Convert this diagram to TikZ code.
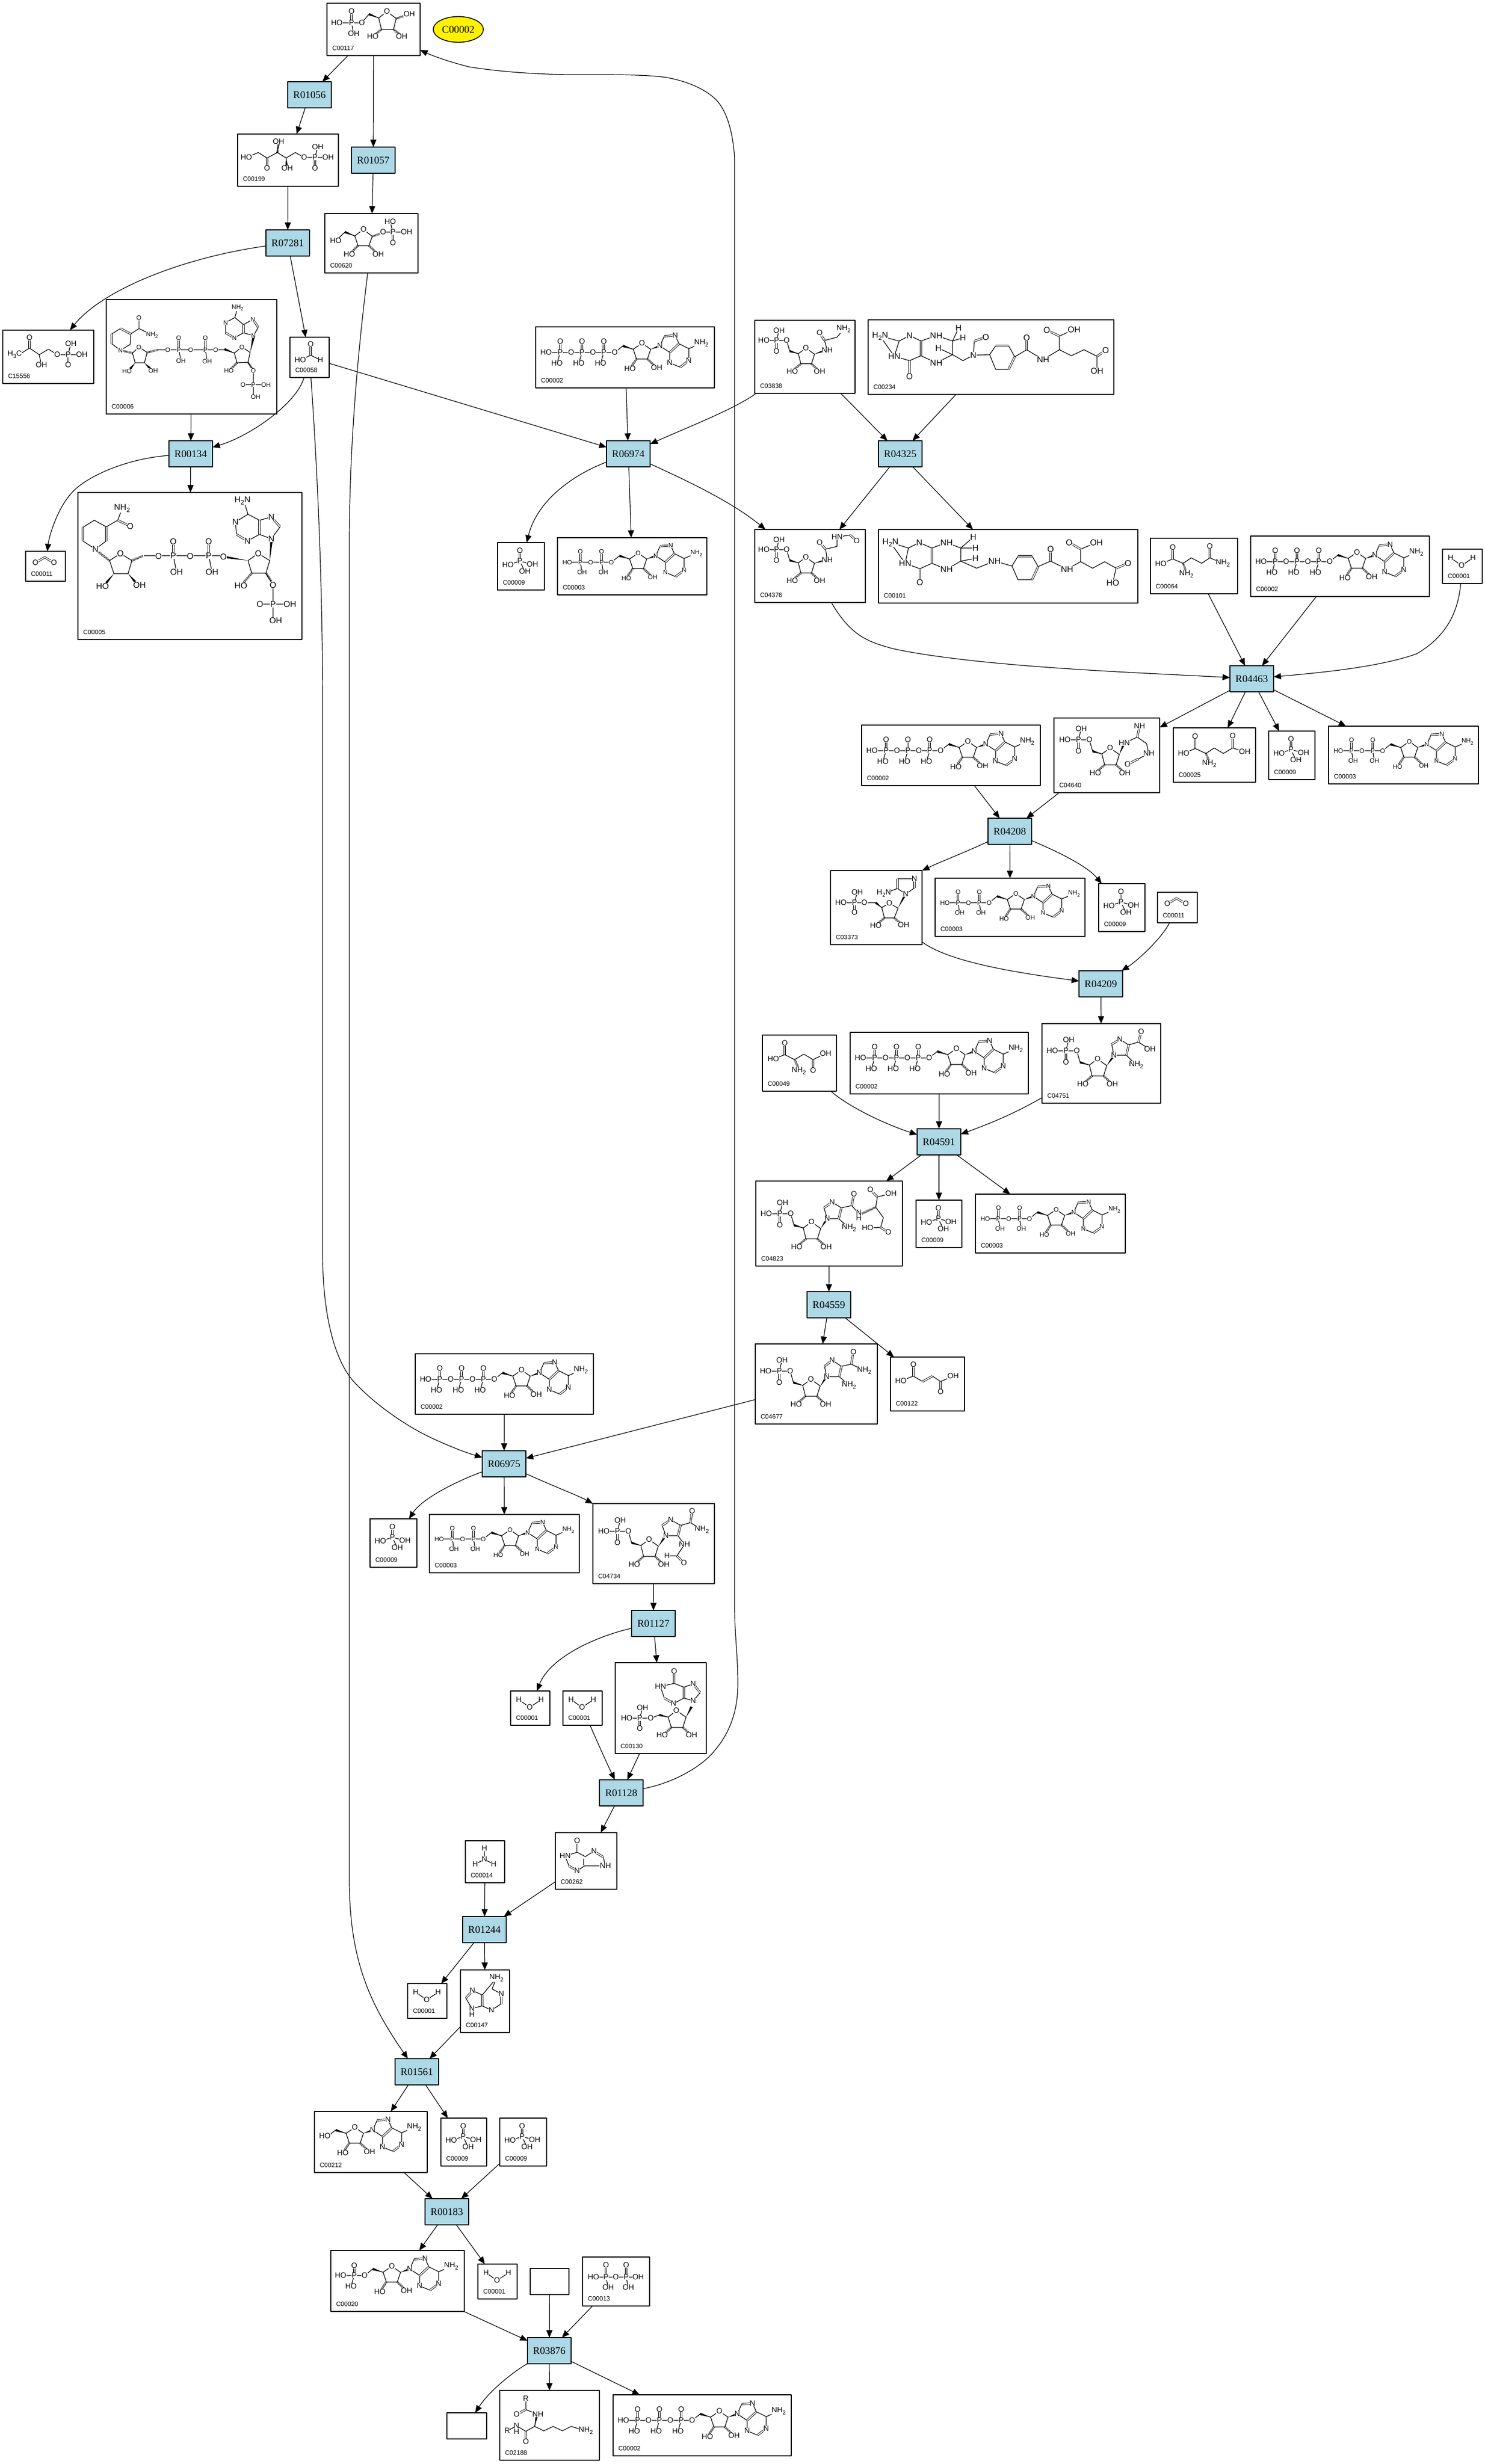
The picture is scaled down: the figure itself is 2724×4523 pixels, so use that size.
\documentclass[tikz,border=0pt]{standalone}
\usepackage{fontspec}
\setmainfont{Liberation Serif}
\newfontfamily\atomfont{Liberation Sans}
\usetikzlibrary{arrows.meta,calc,shapes.geometric}
\newcounter{atomno}
\newcommand{\lsub}[1]{\raisebox{-.3em}{\scalebox{.75}{#1}}}
\newcommand{\wdg}[2]{\fill (#1) -- ($(#2)!.55pt!90:(#1)$) -- ($(#2)!.55pt!-90:(#1)$) -- cycle;}
% bonds, double bonds, atoms
\newcommand{\mol}[3]{\draw[bond] #1; \draw[dbl] #2;
	\foreach \ax/\ay/\atxt in {#3} {\stepcounter{atomno}\node[atom] (atom\theatomno) at (\ax,\ay) {\atxt};}}
% ribose and adenine, origin at the 5' oxygen
\newcommand{\ado}{\wdg{34,-6}{15,-12}\wdg{66,-6}{83,-12}
	\draw[hashb] (40,12)--(29,28) (60,12)--(75,26);
	\mol{(0,0)--(15,-12)--(34,-6) (34,-6)--(50,-17)--(66,-6)--(60,12)--(40,12)--cycle (83,-12)--(91,-30)--(111,-31)--(118,-16)--(101,0)--cycle (118,-16)--(136,-7)--(136,15)--(120,27)--(101,19)--(101,0) (136,-7)--(159,-17)}
	{(91,-30)--(107,-31) (101,0)--(118,-16) (136,15)--(120,27)}
	{50/-17/O,83/-12/N,111/-31/N,136/15/N,101/19/N,28/30/HO,77/28/OH,159/-17/NH\lsub{2}}}
\newcommand{\ATP}[2]{\begin{scope}[shift={(#1,#2)}]
	\begin{scope}[shift={(145,47)}]\ado\end{scope}
	\mol{(19,47)--(145,47) (45,47)--(39,67) (85,47)--(79,67) (125,47)--(119,67)}{(45,47)--(45,27) (85,47)--(85,27) (125,47)--(125,27)}
	{19/47/HO,45/47/P,45/27/O,39/67/HO,65/47/O,85/47/P,85/27/O,79/67/HO,105/47/O,125/47/P,125/27/O,119/67/HO,145/47/O}
	\end{scope}}
\newcommand{\ADP}[2]{\begin{scope}[shift={(#1,#2)},smallatoms]
	\begin{scope}[shift={(99,45)},scale=.98]\ado\end{scope}
	\mol{(18,45)--(99,45) (42,45)--(45,63) (81,45)--(84,63)}{(42,45)--(42,25) (81,45)--(81,25)}
	{18/45/HO,42/45/P,42/25/O,45/63/OH,61/45/O,81/45/P,81/25/O,84/63/OH,99/45/O}
	\end{scope}}
\newcommand{\PiAcid}[2]{\begin{scope}[shift={(#1,#2)}]
	\mol{(41,34)--(19,41) (41,34)--(64,40) (41,34)--(50,53)}{(41,34)--(41,15)}
	{41/15/O,41/34/P,19/41/HO,64/40/OH,50/53/OH}\end{scope}}
\newcommand{\water}[2]{\begin{scope}[shift={(#1,#2)}]
	\mol{(15,16)--(35,30)--(56,16)}{}{15/16/H,35/30/O,56/16/H}\end{scope}}
\newcommand{\carbdi}[2]{\begin{scope}[shift={(#1,#2)}]
	\mol{}{(18,21)--(35,11)--(52,21)}{18/21/O,52/21/O}\end{scope}}
% phosphoribosyl part that the later intermediates share
\newcommand{\prib}{\wdg{87,76}{70,71}
	\draw[hashb] (92,96)--(78,108) (113,96)--(126,108);
	\mol{(19,50)--(64,50)--(70,71)--(87,76) (44,50)--(49,30) (87,76)--(102,65)--(119,77)--(113,96)--(92,96)--cycle}{(44,50)--(44,71)}
	{19/50/HO,44/50/P,49/30/OH,44/71/O,64/50/O,102/65/O,75/111/HO,129/111/OH}}
\definecolor{rxnblue}{HTML}{ADD8E6}
\tikzset{
	bond/.style={line width=.3pt,line join=round},
	dbl/.style={double,double distance=.5pt,line width=.22pt},
	hashb/.style={line width=1pt,dash pattern=on .22pt off .3pt},
	atom/.style={font=\atomfont\fontsize{3.5}{4}\selectfont,fill=white,inner sep=.1pt},
	smallatoms/.style={atom/.append style={font=\atomfont\fontsize{2.9}{3.4}\selectfont}},
	bigatoms/.style={atom/.append style={font=\atomfont\fontsize{3.9}{4.4}\selectfont}},
	cpd/.style={draw,line width=.4pt,inner sep=0pt,outer sep=0pt},
	cid/.style={font=\atomfont\fontsize{2.9}{3.4}\selectfont,anchor=west,inner sep=0pt},
	rxn/.style={draw,line width=.4pt,fill=rxnblue,inner sep=0pt,outer sep=0pt,minimum width=20pt,minimum height=12pt,font=\fontsize{4.7}{5}\selectfont},
	edge/.style={->,line width=.3pt}
}
\begin{document}
\begin{tikzpicture}[x=.25pt,y=-.25pt,>={Triangle[length=3.4pt,width=2.8pt]},line join=round]
	\useasboundingbox (0,0) rectangle (2724,4523);
	\foreach \n/\xa/\ya/\xb/\yb/\lab in {C00117/600/6/771/102/C00117, C00199/436/246/621/342/C00199, C00620/596/392/767/501/C00620,
		C15556/5/606/172/704/C15556, C00006/195/550/508/760/C00006, C00058/532/619/604/693/C00058, C00005/143/904/554/1174/C00005,
		C00011a/47/1012/120/1067/C00011, C00002a/983/600/1311/712/C00002, C03838/1385/588/1569/722/C03838, C00234/1593/587/2044/724/C00234,
		C00009a/913/996/999/1083/C00009, C00003a/1023/987/1297/1092/C00003, C04376/1385/972/1588/1106/C04376, C00101/1612/972/2088/1107/C00101,
		C00064/2111/988/2271/1090/C00064, C00002b/2295/984/2623/1095/C00002, C00001a/2647/1008/2720/1071/C00001, C00002c/1581/1331/1909/1442/C00002,
		C04640/1934/1318/2128/1455/C04640, C00025/2153/1336/2304/1436/C00025, C00009b/2328/1342/2413/1431/C00009, C00003b/2438/1333/2713/1439/C00003,
		C03373/1524/1598/1692/1734/C03373, C00003c/1716/1612/1991/1719/C00003, C00009c/2016/1622/2101/1710/C00009, C00011b/2124/1638/2197/1694/C00011,
		C04751/1912/1879/2130/2025/C04751, C00049/1399/1900/1535/2003/C00049, C00002d/1560/1895/1887/2008/C00002, C04823/1387/2168/1656/2324/C04823,
		C00009d/1681/2203/1765/2290/C00009, C00003d/1790/2192/2065/2300/C00003, C04677/1386/2467/1610/2614/C04677, C00122/1634/2491/1770/2590/C00122,
		C00002e/762/2485/1089/2596/C00002, C00009e/679/2788/765/2877/C00009, C00003e/788/2780/1063/2887/C00003, C04734/1088/2760/1311/2907/C04734,
		C00001b/937/3104/1009/3167/C00001, C00001c/1033/3104/1105/3167/C00001, C00130/1129/3052/1296/3219/C00130, C00262/1019/3364/1132/3468/C00262,
		C00014/854/3379/926/3456/C00014, C00001d/748/3641/820/3705/C00001, C00147/845/3616/935/3731/C00147, C00212/577/3876/784/3988/C00212,
		C00009f/809/3888/893/3976/C00009, C00009g/917/3888/1003/3976/C00009, C00020/607/4131/852/4243/C00020, C00001e/877/4156/949/4220/C00001,
		blanka/973/4164/1044/4212/{}, C00013/1069/4143/1192/4233/C00013, blankb/820/4429/893/4477/{}, C02188/917/4388/1100/4516/C02188, C00002f/1125/4396/1452/4508/C00002}
		{\node[cpd,minimum width={(\xb-\xa)*.25pt},minimum height={(\yb-\ya)*.25pt}] (\n) at ({(\xa+\xb)/2},{(\ya+\yb)/2}) {};
		\node[cid] (\n-id) at ({\xa+9},{\yb-14}) {\lab};}
	\foreach \n/\x/\y in {R01056/568/174, R01057/685/294, R07281/528/446, R00134/350/833, R06974/1153/833, R04325/1652/833, R04463/2297/1246,
		R04208/1853/1526, R04209/2020/1806, R04591/1723/2096, R04559/1521/2395, R06975/925/2687, R01127/1199/2980, R01128/1140/3291,
		R01244/889/3542, R01561/765/3803, R00183/820/4060, R03876/1008/4315}
		\node[rxn] (\n) at (\x,\y) {\n};
	\node[ellipse,draw,line width=.4pt,fill=yellow,inner sep=0pt,minimum width=23pt,minimum height=11.8pt,font=\fontsize{4.7}{5}\selectfont] (C00002) at (841,54) {C00002};
	% repeated compounds
	\ATP{983}{600}\ATP{2295}{984}\ATP{1581}{1331}\ATP{1560}{1895}\ATP{762}{2485}\ATP{1125}{4396}
	\ADP{1023}{987}\ADP{2438}{1333}\ADP{1716}{1612}\ADP{1790}{2192}\ADP{788}{2780}
	\PiAcid{913}{996}\PiAcid{2328}{1342}\PiAcid{2016}{1622}\PiAcid{1681}{2203}\PiAcid{679}{2788}\PiAcid{809}{3888}\PiAcid{917}{3888}
	\water{2647}{1008}\water{937}{3104}\water{1033}{3104}\water{748}{3641}\water{877}{4156}
	\carbdi{47}{1012}\carbdi{2124}{1638}
	% single compounds
	\begin{scope}[shift={(600,6)}]
		\wdg{95,27}{77,20} \draw[hashb] (100,48)--(86,59) (122,48)--(135,58) (127,28)--(148,21);
		\mol{(18,36)--(64,36)--(77,20)--(95,27) (45,36)--(49,56) (95,27)--(110,15)--(127,28)--(122,48)--(100,48)--cycle}{(45,36)--(45,15)}
		{18/36/HO,45/36/P,45/15/O,49/56/OH,64/36/O,110/15/O,84/61/HO,137/61/OH,151/20/OH}
	\end{scope}
	\begin{scope}[shift={(436,246)}]
		\draw[hashb] (73,34)--(75,18); \wdg{89,44}{90,58}
		\mol{(16,43)--(38,34)--(54,44)--(73,34)--(89,44)--(106,34)--(122,43)--(165,43) (89,44)--(91,63) (73,34)--(75,14) (142,43)--(147,24)}{(54,44)--(54,63) (142,43)--(142,63)}
		{16/43/HO,54/63/O,75/14/OH,91/63/OH,122/43/O,142/43/P,147/24/OH,166/43/OH,142/63/O}
	\end{scope}
	\begin{scope}[shift={(596,392)}]
		\wdg{55,41}{37,34} \draw[hashb] (61,59)--(48,72) (81,59)--(95,72) (87,42)--(105,36);
		\mol{(20,50)--(37,34)--(55,41) (55,41)--(71,29)--(87,42)--(81,59)--(61,59)--cycle (107,34)--(150,34) (125,34)--(120,15)}{(125,34)--(125,54)}
		{20/50/HO,71/29/O,45/75/HO,98/75/OH,107/34/O,125/34/P,120/15/HO,150/34/OH,125/54/O}
	\end{scope}
	\begin{scope}[shift={(5,606)}]
		\mol{(30,45)--(49,33)--(67,45)--(84,35)--(100,45)--(145,45) (67,45)--(71,64) (120,45)--(125,25)}{(49,33)--(49,14) (120,45)--(120,64)}
		{22/45/H\lsub{3}C,49/14/O,71/64/OH,100/45/O,120/45/P,125/25/OH,145/45/OH,120/64/O}
	\end{scope}
	\begin{scope}[shift={(532,619)}]
		\mol{(38,33)--(19,42) (38,33)--(56,42)}{(38,33)--(38,13)}{38/13/O,19/42/HO,56/42/H}
	\end{scope}
	\begin{scope}[shift={(195,550)},smallatoms]
		\wdg{235,98}{217,91} \wdg{264,97}{270,70} \draw[hashb] (48,98)--(30,94) (75,97)--(95,92) (240,116)--(228,128) (260,115)--(268,127);
		\wdg{53,116}{44,127} \wdg{70,116}{80,126}
		\mol{(26,93)--(10,81)--(10,63)--(26,53)--(45,63)--(44,82)--cycle (45,63)--(60,53)--(84,65) (48,98)--(60,87)--(75,97)--(70,116)--(53,116)--cycle (95,92)--(218,92)--(235,98)--(249,87)--(264,97)--(260,115)--(240,116)--(235,98) (133,92)--(137,111) (182,92)--(185,113) (260,115)--(270,130)--(270,178) (251,156)--(293,156) (270,66)--(279,51)--(269,36)--(252,46)--(252,61)--cycle (252,46)--(236,33)--(219,42)--(219,61)--(235,70)--(252,61) (236,33)--(241,15)}
		{(60,53)--(60,33) (133,92)--(133,70) (182,92)--(182,70) (10,81)--(10,63) (26,53)--(45,63) (279,51)--(269,36) (252,46)--(252,61) (219,61)--(235,70)}
		{26/93/N,60/33/O,84/65/NH\lsub{2},60/87/O,38/131/HO,86/130/OH,113/92/O,133/92/P,133/70/O,137/112/OH,155/92/O,182/92/P,182/70/O,185/113/OH,201/92/O,249/87/O,225/130/HO,270/130/O,270/156/P,251/156/O,293/156/OH,274/178/OH,270/66/N,269/36/N,235/70/N,219/42/N,241/15/NH\lsub{2}}
	\end{scope}
	\begin{scope}[shift={(143,904)},bigatoms]
		\wdg{312,125}{267,118} \wdg{352,125}{355,90} \draw[hashb] (58,125)--(36,108) (99,125)--(120,116) (319,148)--(304,165) (345,148)--(355,163);
		\wdg{66,149}{52,166} \wdg{92,149}{105,164}
		\mol{(32,104)--(9,89)--(9,64)--(30,51)--(52,63)--(52,89)--cycle (52,63)--(73,51)--(81,30) (58,125)--(78,112)--(99,125)--(92,149)--(66,149)--cycle (121,116)--(267,116) (175,116)--(181,146) (240,116)--(246,146) (312,125)--(331,112)--(352,125)--(345,148)--(319,148)--cycle (345,148)--(358,170)--(358,235) (334,205)--(389,205) (355,85)--(371,63)--(355,45)--(333,51)--(333,77)--cycle (333,51)--(312,40)--(289,54)--(291,77)--(311,89)--(333,77) (312,40)--(306,20)}
		{(73,51)--(96,62) (175,116)--(175,90) (240,116)--(240,90) (9,88)--(9,64) (52,63)--(52,89) (371,63)--(355,45) (333,51)--(333,77) (291,77)--(311,89)}
		{32/104/N,96/62/O,81/29/NH\lsub{2},78/112/O,45/172/HO,113/170/OH,148/117/O,175/116/P,175/90/O,181/146/OH,206/117/O,240/116/P,240/90/O,246/146/OH,267/118/O,331/112/O,299/171/HO,358/170/O,358/205/P,334/205/O,389/205/OH,363/235/OH,355/85/N,355/45/N,311/89/N,289/54/N,302/15/H\lsub{2}N}
	\end{scope}
	\begin{scope}[shift={(1385,588)}]
		\begin{scope}[shift={(-1,-9.5)},scale=.93]\prib\end{scope}
		\wdg{109,62}{130,55}
		\mol{(133,55)--(128,37)--(151,31)--(163,16)}{(128,37)--(119,23)}{133/55/NH,119/23/O,163/16/NH\lsub{2}}
	\end{scope}
	\begin{scope}[shift={(1385,972)}]
		\begin{scope}[shift={(-1,-9.5)},scale=.93]\prib\end{scope}
		\wdg{109,62}{130,56}
		\mol{(133,56)--(130,36)--(151,31)--(151,14)--(175,10)}{(130,36)--(119,24) (175,10)--(187,21)}{133/56/NH,119/24/O,151/14/HN,187/21/O}
	\end{scope}
	\begin{scope}[shift={(1593,587)},bigatoms]
		\mol{(22,30)--(57,39)--(76,29)--(97,39)--(97,66)--(76,75)--(48,67)--cycle (57,39)--(48,67) (97,39)--(125,29)--(155,39)--(155,64)--(125,79)--(97,66) (155,39)--(166,15) (155,39)--(174,33) (155,64)--(129,52) (155,64)--(174,75)--(193,65)--(195,39) (193,65)--(223,64) (223,64)--(234,48)--(258,48)--(269,68)--(258,91)--(234,91)--cycle (269,68)--(291,55)--(321,73)--(351,55)--(351,30)--(377,18) (351,55)--(373,66)--(396,55)--(420,67)--(420,94)}
		{(291,55)--(291,33) (351,30)--(328,19) (420,67)--(436,56) (97,39)--(97,66) (76,75)--(76,104) (195,39)--(216,32) (234,48)--(258,48) (269,68)--(258,91)}
		{22/30/H\lsub{2}N,76/29/N,125/29/NH,166/15/H,174/33/H,129/52/H,125/79/NH,76/104/O,48/67/HN,193/65/N,216/32/O,291/33/O,321/73/NH,328/19/O,378/18/OH,436/56/O,420/94/OH}
	\end{scope}
	\begin{scope}[shift={(1612,972)},bigatoms]
		\mol{(22,24)--(55,34)--(75,24)--(98,34)--(98,62)--(76,72)--(49,62)--cycle (55,34)--(49,62) (98,34)--(125,24)--(151,34)--(151,58)--(125,73)--(98,62) (151,34)--(174,14) (151,34)--(178,34) (151,58)--(178,53) (151,58)--(180,71)--(213,58)--(245,67) (245,67)--(256,49)--(282,49)--(293,68)--(282,92)--(256,92)--cycle (293,68)--(316,58)--(346,73)--(371,59)--(371,36)--(400,24) (371,59)--(393,71)--(415,59)--(436,71)--(430,98)}
		{(316,58)--(316,36) (371,36)--(350,24) (436,71)--(458,62) (98,34)--(98,62) (76,72)--(76,97) (256,49)--(282,49) (293,68)--(282,92)}
		{22/24/H\lsub{2}N,75/24/N,125/24/NH,174/14/H,178/34/H,178/53/H,125/73/NH,76/97/O,49/62/HN,213/58/NH,316/36/O,346/73/NH,350/24/O,400/24/OH,458/62/O,430/98/HO}
	\end{scope}
	\begin{scope}[shift={(2111,988)}]
		\draw[hashb] (60,46)--(65,60);
		\mol{(19,47)--(41,38)--(60,46)--(75,36)--(94,46)--(109,36)--(133,46)}{(41,38)--(41,17) (109,36)--(109,15)}{19/47/HO,41/17/O,66/66/NH\lsub{2},109/15/O,133/46/NH\lsub{2}}
	\end{scope}
	\begin{scope}[shift={(2153,1336)}]
		\draw[hashb] (60,47)--(65,60);
		\mol{(19,47)--(40,38)--(60,47)--(75,37)--(92,47)--(109,37)--(131,44)}{(40,38)--(40,16) (109,37)--(109,15)}{19/47/HO,40/16/O,66/66/NH\lsub{2},109/15/O,131/44/OH}
	\end{scope}
	\begin{scope}[shift={(1934,1318)}]
		\begin{scope}[shift={(1,-10)}]\prib\end{scope}
		\wdg{120,67}{128,48}
		\mol{(129,46)--(153,35)--(170,47)--(174,65)--(155,75)}{(153,35)--(157,15) (155,75)--(135,85)}{129/46/HN,157/15/NH,174/65/NH,135/85/O}
	\end{scope}
	\begin{scope}[shift={(1524,1598)}]
		\wdg{94,68}{83,59} \wdg{124,69}{137,44} \draw[hashb] (99,87)--(86,98) (117,87)--(130,98);
		\mol{(19,59)--(62,59)--(83,59)--(94,68) (44,59)--(49,40) (94,68)--(108,60)--(124,69)--(117,87)--(99,87)--cycle (138,43)--(123,33)--(123,15)--(154,15)--(154,32)--cycle (123,33)--(98,42)}{(44,59)--(44,77) (123,33)--(123,15) (154,15)--(154,32)}
		{19/59/HO,44/59/P,49/40/OH,44/77/O,62/59/O,108/60/O,83/101/HO,134/100/OH,138/43/N,154/15/N,98/42/H\lsub{2}N}
	\end{scope}
	\begin{scope}[shift={(1912,1879)}]
		\prib \wdg{119,77}{131,60}
		\mol{(132,58)--(128,38)--(143,29)--(159,39)--(155,58)--cycle (159,39)--(177,34)--(198,47) (155,58)--(173,76)}{(177,34)--(182,15) (159,39)--(155,58) (128,38)--(143,29)}{132/58/N,143/29/N,182/15/O,198/47/OH,173/76/NH\lsub{2}}
	\end{scope}
	\begin{scope}[shift={(1399,1900)}]
		\draw[hashb] (59,45)--(66,60);
		\mol{(20,44)--(41,36)--(59,45)--(76,35)--(93,45)--(116,34)}{(41,36)--(41,15) (93,45)--(93,65)}{20/44/HO,41/15/O,67/66/NH\lsub{2},93/65/O,116/34/OH}
	\end{scope}
	\begin{scope}[shift={(1387,2168)}]
		\begin{scope}[shift={(0,10)}]\prib\end{scope}
		\wdg{119,87}{130,70} \draw[hashb] (220,48)--(194,60);
		\mol{(131,69)--(125,49)--(140,39)--(157,49)--(152,69)--cycle (157,49)--(176,45)--(189,60) (152,69)--(171,86) (220,48)--(223,29)--(248,23) (220,48)--(234,67)--(229,85)--(205,86)}
		{(157,49)--(152,69) (125,49)--(140,39) (176,45)--(180,24) (223,29)--(210,16) (229,85)--(243,94)}
		{131/69/N,140/39/N,171/86/NH\lsub{2},180/24/O,189/58/N,189/68/H,210/16/O,248/23/OH,243/94/O,205/86/HO}
	\end{scope}
	\begin{scope}[shift={(1386,2467)}]
		\prib \wdg{119,78}{130,61}
		\mol{(131,60)--(127,41)--(141,30)--(158,41)--(154,60)--cycle (158,41)--(176,37)--(200,49) (154,60)--(172,76)}{(158,41)--(154,60) (127,41)--(141,30) (176,37)--(180,15)}{131/60/N,141/30/N,172/76/NH\lsub{2},180/15/O,200/49/NH\lsub{2}}
	\end{scope}
	\begin{scope}[shift={(1634,2491)}]
		\mol{(19,44)--(42,35)--(59,45)--(77,35)--(92,45)--(115,35)}{(42,35)--(42,14) (59,45)--(77,35) (92,45)--(92,64)}{19/44/HO,42/14/O,92/64/O,115/35/OH}
	\end{scope}
	\begin{scope}[shift={(1088,2760)}]
		\begin{scope}[shift={(1,1)}]\prib\end{scope}
		\wdg{120,79}{132,61}
		\mol{(134,59)--(127,40)--(143,30)--(161,40)--(156,59)--cycle (161,40)--(179,35)--(200,48) (156,59)--(168,75)--(154,96)--(136,96)}{(161,40)--(156,59) (127,40)--(143,30) (179,35)--(182,14) (154,96)--(167,109)}{134/59/N,143/30/N,182/14/O,200/48/NH\lsub{2},168/75/NH,136/96/H,167/109/O}
	\end{scope}
	\begin{scope}[shift={(1129,3052)}]
		\wdg{97,100}{81,96} \wdg{130,100}{140,81} \draw[hashb] (103,119)--(91,130) (124,119)--(136,130);
		\mol{(21,102)--(65,102)--(81,96)--(97,100) (45,102)--(50,83) (97,100)--(112,88)--(130,100)--(124,119)--(103,119)--cycle (83,44)--(108,38)--(126,45)--(126,65)--(107,75)--(90,65)--cycle (126,45)--(143,39)--(156,55)--(143,70)--(126,65)}
		{(45,102)--(45,121) (108,38)--(108,16) (126,45)--(126,65) (90,65)--(107,75) (143,39)--(156,55)}
		{21/102/HO,45/102/P,50/83/OH,45/121/O,65/102/O,112/88/O,86/133/HO,140/133/OH,108/16/O,83/44/HN,107/75/N,143/39/N,143/70/N}
	\end{scope}
	\begin{scope}[shift={(1019,3364)}]
		\mol{(18,43)--(40,36)--(55,44)--(71,34)--(88,45)--(92,61)--(54,61)--(40,70)--(25,61)--cycle (52,48)--(52,60)}{(40,36)--(40,15) (25,61)--(40,70) (71,34)--(88,45)}{40/15/O,18/43/HN,40/70/N,71/34/N,92/61/NH}
	\end{scope}
	\begin{scope}[shift={(854,3379)}]
		\mol{(35,14)--(35,34)--(18,43) (35,34)--(52,43)}{}{35/14/H,35/34/N,18/43/H,52/43/H}
	\end{scope}
	\begin{scope}[shift={(845,3616)}]
		\mol{(66,15)--(58,35)--(75,44)--(75,62)--(57,74)--(40,66)--(40,46)--cycle (40,46)--(22,38)--(10,52)--(21,71)--(40,66)}{(40,66)--(40,46) (75,44)--(75,62) (22,38)--(10,52)}{66/15/NH\lsub{2},75/44/N,57/74/N,22/38/N,21/71/N,21/82/H}
	\end{scope}
	\begin{scope}[shift={(577,3876)}]
		\begin{scope}[shift={(24,46)}]\ado\end{scope}
		\mol{(19,45)--(24,46)}{}{19/45/HO}
	\end{scope}
	\begin{scope}[shift={(607,4131)}]
		\begin{scope}[shift={(62,46)}]\ado\end{scope}
		\mol{(18,46)--(62,46) (43,46)--(37,66)}{(43,46)--(43,28)}{18/46/HO,43/46/P,43/28/O,37/66/HO,62/46/O}
	\end{scope}
	\begin{scope}[shift={(1069,4143)}]
		\mol{(20,37)--(102,37) (43,37)--(47,56) (80,37)--(84,56)}{(43,37)--(43,15) (80,37)--(80,15)}{20/37/HO,43/37/P,43/15/O,47/56/OH,61/37/O,80/37/P,80/15/O,102/37/OH,84/56/OH}
	\end{scope}
	\begin{scope}[shift={(917,4388)}]
		\wdg{64,66}{68,46}
		\mol{(48,15)--(48,35)--(70,44) (48,35)--(31,44) (69,44)--(64,66)--(48,75)--(31,65)--(14,74) (64,66)--(81,74)--(98,66)--(115,74)--(131,66)--(158,74)}{(48,35)--(31,44) (48,75)--(48,94)}{48/15/R,31/44/O,70/44/NH,48/94/O,31/65/N,31/76/H,14/74/R,158/74/NH\lsub{2}}
	\end{scope}
	% straight connectors
	\foreach \a/\b in {C00117/R01056, C00117/R01057, R01056/C00199, C00199/R07281, R01057/C00620, R07281/C00058, C00006/R00134, R00134/C00005,
		C00058/R06974, C00002a/R06974, R06974/C00003a, C03838/R04325, C00234/R04325, R04325/C04376, R04325/C00101,
		C00064/R04463, C00002b/R04463, R04463/C04640, R04463/C00025, R04463/C00009b, R04463/C00003b,
		C00002c/R04208, C04640/R04208, R04208/C00003c, R04209/C04751, C00002d/R04591, R04591/C04823, R04591/C00009d, R04591/C00003d,
		C04823/R04559, R04559/C04677, R04559/C00122, C04677/R06975, C00002e/R06975, R06975/C00003e, C04734/R01127, R01127/C00130,
		C00130/R01128, R01128/C00262, C00014/R01244, C00262/R01244, R01244/C00001d, R01244/C00147, C00147/R01561,
		R01561/C00212, R01561/C00009f, C00212/R00183, C00009g/R00183, R00183/C00020, R00183/C00001e,
		C00020/R03876, blanka/R03876, C00013/R03876, R03876/C02188, R03876/C00002f}
		\draw[edge] (\a) -- (\b);
	% curved connectors
	\draw[edge] (R07281) .. controls (340,472) and (190,530) .. (C15556);
	\draw[edge] (C00058) .. controls (545,740) and (460,800) .. (R00134);
	\draw[edge] (R00134) .. controls (230,842) and (160,875) .. (134,902) .. controls (105,932) and (90,985) .. (C00011a);
	\draw[edge] (C00058) .. controls (585,900) and (592,1100) .. (592,1300) -- (592,2300) .. controls (592,2430) and (620,2505) .. (650,2537) .. controls (690,2580) and (740,2612) .. (771,2629) .. controls (805,2647) and (850,2665) .. (R06975);
	\draw[edge] (C00620) .. controls (660,620) and (641,800) .. (641,1000) -- (641,3450) .. controls (641,3600) and (680,3680) .. (R01561);
	\draw[edge] (C03838) .. controls (1350,750) and (1260,785) .. (R06974);
	\draw[edge] (R06974) .. controls (1050,872) and (985,920) .. (C00009a);
	\draw[edge] (R06974) .. controls (1255,880) and (1340,919) .. (C04376);
	\draw[edge] (C04376) .. controls (1560,1165) and (1590,1178) .. (1640,1191) .. controls (1800,1225) and (2100,1235) .. (R04463);
	\draw[edge] (C00001a) .. controls (2675,1130) and (2650,1170) .. (2600,1200) .. controls (2530,1225) and (2420,1235) .. (R04463);
	\draw[edge] (R04208) .. controls (1770,1565) and (1730,1580) .. (C03373.north east);
	\draw[edge] (R04208) .. controls (1945,1565) and (1995,1590) .. (C00009c);
	\draw[edge] (C03373) .. controls (1740,1765) and (1860,1785) .. (R04209);
	\draw[edge] (C00011b) .. controls (2130,1725) and (2085,1765) .. (R04209);
	\draw[edge] (C00049) .. controls (1555,2030) and (1620,2062) .. (R04591);
	\draw[edge] (C04751) .. controls (1860,2045) and (1810,2065) .. (R04591);
	\draw[edge] (R06975) .. controls (840,2718) and (775,2750) .. (C00009e);
	\draw[edge] (R06975) .. controls (1020,2730) and (1060,2745) .. (C04734.north west);
	\draw[edge] (R01127) .. controls (1100,3002) and (1010,3040) .. (C00001b);
	\draw[edge] (C00001c) .. controls (1095,3195) and (1115,3240) .. (R01128);
	\draw[edge] (R03876) .. controls (935,4358) and (895,4393) .. (blankb);
	\draw[edge] (R01128) .. controls (1240,3272) and (1290,3240) .. (1310,3215) .. controls (1345,3175) and (1354,3130) .. (1354,3090) .. controls (1354,3040) and (1348,3000) .. (1348,2950) -- (1348,290) .. controls (1345,245) and (1335,205) .. (1314,183) .. controls (1290,160) and (1255,148) .. (1222,142) .. controls (1180,136) and (1100,137) .. (1057,137) .. controls (990,137) and (920,132) .. (862,123) .. controls (830,115) and (800,105) .. (C00117);
\end{tikzpicture}
\end{document}
